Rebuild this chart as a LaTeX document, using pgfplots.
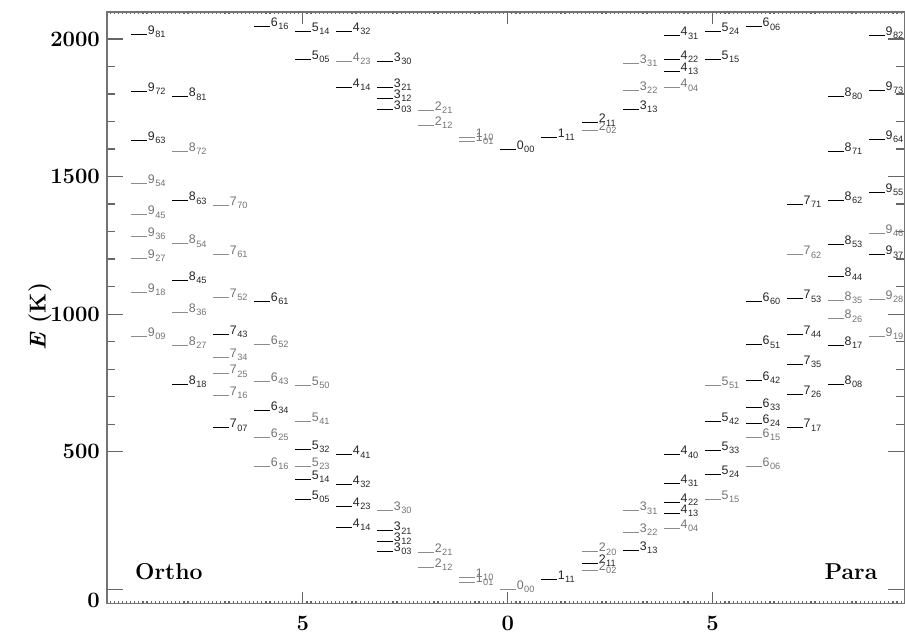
\documentclass[border=0pt]{standalone}
\usepackage{fontspec}
\usepackage{pgfplots}
\pgfplotsset{compat=1.18}
\newfontfamily\lvfont{Liberation Sans}
% level label: J with Ka Kc subscript
\NewDocumentCommand{\lv}{mm}{{\lvfont\fontsize{6.2}{7}\selectfont #1\kern0.25pt\raisebox{-1.6pt}{\fontsize{4.6}{5}\selectfont #2}}}

\pgfplotsset{
  lev/.style={only marks, mark=-, mark size=4pt,
    mark options={line width=0.5pt},
    point meta=explicit symbolic,
    nodes near coords={\pgfplotspointmeta},
    every node near coord/.append style={anchor=base west, xshift=4.3pt, inner sep=0pt}},
}

\begin{document}
\begin{tikzpicture}
\begin{axis}[
  scale only axis, width=399pt, height=296pt,
  xmin=-9.78, xmax=9.68, ymin=-52, ymax=2098,
  clip=false,
  axis line style={black!55, line width=0.6pt},
  tick style={black!60, line width=0.6pt},
  tick align=inside, tick pos=both,
  xtick={-5,0,5}, xticklabels={5,0,5},
  minor xtick={-9.7,-9.6,...,9.65},
  ytick={500,1000,1500,2000}, yticklabels={500,1000,1500,2000},
  extra y ticks={0}, extra y tick labels={0},
  extra y tick style={yticklabel style={yshift=-5.5pt}},
  minor y tick num=4,
  major x tick style={/pgfplots/major tick length=6pt},
  minor x tick style={/pgfplots/minor tick length=1.2pt},
  major y tick style={/pgfplots/major tick length=8pt},
  minor y tick style={/pgfplots/minor tick length=4pt},
  ticklabel style={font=\bfseries\fontsize{11}{12}\selectfont},
  xticklabel style={yshift=-2.5pt},
  ylabel={\textbf{\textit{E} (K)}},
  ylabel style={font=\fontsize{11.5}{13}\selectfont, at={(rel axis cs:0,0.485)}, yshift=33.5pt, anchor=center},
]
\coordinate (BL) at (rel axis cs:0,0);
\coordinate (TR) at (rel axis cs:1,1);

% black levels
\addplot[lev, black, every node near coord/.append style={text=black!85}] coordinates {
  (-3,136.8)[\lv{3}{03}] (-3,173.4)[\lv{3}{12}] (-3,212.2)[\lv{3}{21}]
  (-4,224.8)[\lv{4}{14}] (-4,300.4)[\lv{4}{23}] (-4,382.5)[\lv{4}{32}] (-4,488.1)[\lv{4}{41}]
  (-5,325.3)[\lv{5}{05}] (-5,399.5)[\lv{5}{14}] (-5,508.8)[\lv{5}{32}]
  (-6,649.0)[\lv{6}{34}] (-6,1045.1)[\lv{6}{61}]
  (-7,586.5)[\lv{7}{07}] (-7,927.7)[\lv{7}{43}]
  (-8,744.2)[\lv{8}{18}] (-8,1122.7)[\lv{8}{45}] (-8,1411.6)[\lv{8}{63}] (-8,1789.3)[\lv{8}{81}]
  (-9,1631.4)[\lv{9}{63}] (-9,1810.6)[\lv{9}{72}] (-9,2016.3)[\lv{9}{81}]
  (1,37.1)[\lv{1}{11}] (2,95.2)[\lv{2}{11}] (3,142.3)[\lv{3}{13}]
  (4,275.5)[\lv{4}{13}] (4,315.8)[\lv{4}{22}] (4,383.8)[\lv{4}{31}] (4,488.1)[\lv{4}{40}]
  (5,416.2)[\lv{5}{24}] (5,504.0)[\lv{5}{33}] (5,610.3)[\lv{5}{42}]
  (6,602.8)[\lv{6}{24}] (6,661.5)[\lv{6}{33}] (6,757.8)[\lv{6}{42}] (6,888.1)[\lv{6}{51}] (6,1045.1)[\lv{6}{60}]
  (7,586.2)[\lv{7}{17}] (7,709.6)[\lv{7}{26}] (7,816.7)[\lv{7}{35}] (7,927.7)[\lv{7}{44}] (7,1055)[\lv{7}{53}] (7,1398)[\lv{7}{71}]
  (8,744.2)[\lv{8}{08}] (8,885.6)[\lv{8}{17}] (8,1135)[\lv{8}{44}] (8,1254)[\lv{8}{53}] (8,1414)[\lv{8}{62}] (8,1592)[\lv{8}{71}] (8,1792)[\lv{8}{80}]
  (9,1215)[\lv{9}{37}] (9,1441)[\lv{9}{55}] (9,1634)[\lv{9}{64}] (9,1814)[\lv{9}{73}] (9,2014)[\lv{9}{82}]
  (-3,1744)[\lv{3}{03}] (-3,1783)[\lv{3}{12}] (-3,1823)[\lv{3}{21}] (-3,1919)[\lv{3}{30}]
  (-4,1825)[\lv{4}{14}] (-4,2028)[\lv{4}{32}] (-5,1925)[\lv{5}{05}] (-5,2028)[\lv{5}{14}] (-6,2045)[\lv{6}{16}]
  (0,1600)[\lv{0}{00}] (1,1641)[\lv{1}{11}] (2,1695)[\lv{2}{11}] (3,1744)[\lv{3}{13}]
  (4,1883)[\lv{4}{13}] (4,1925)[\lv{4}{22}] (4,2011)[\lv{4}{31}] (5,1925)[\lv{5}{15}] (5,2026)[\lv{5}{24}] (6,2044)[\lv{6}{06}]
};

% grey levels
\addplot[lev, black!45, every node near coord/.append style={text=black!55}] coordinates {
  (-1,23.8)[\lv{1}{01}] (-1,42.4)[\lv{1}{10}] (-2,79.5)[\lv{2}{12}] (-2,134.9)[\lv{2}{21}]
  (-3,285.4)[\lv{3}{30}] (-5,446.7)[\lv{5}{23}] (-5,610.1)[\lv{5}{41}] (-5,742.1)[\lv{5}{50}]
  (-6,447.3)[\lv{6}{16}] (-6,552.9)[\lv{6}{25}] (-6,756.7)[\lv{6}{43}] (-6,888.6)[\lv{6}{52}]
  (-7,704.2)[\lv{7}{16}] (-7,782.4)[\lv{7}{25}] (-7,842.4)[\lv{7}{34}] (-7,1059.6)[\lv{7}{52}]
  (-7,1216.2)[\lv{7}{61}] (-7,1394.8)[\lv{7}{70}]
  (-8,885.6)[\lv{8}{27}] (-8,1006.1)[\lv{8}{36}] (-8,1255.2)[\lv{8}{54}] (-8,1590.7)[\lv{8}{72}]
  (-9,920.2)[\lv{9}{09}] (-9,1079.1)[\lv{9}{18}] (-9,1201.9)[\lv{9}{27}] (-9,1282.9)[\lv{9}{36}]
  (-9,1360.2)[\lv{9}{45}] (-9,1475.1)[\lv{9}{54}]
  (0,0)[\lv{0}{00}] (2,70.1)[\lv{2}{02}] (2,136.2)[\lv{2}{20}] (3,206.3)[\lv{3}{22}] (3,285.2)[\lv{3}{31}]
  (4,222.1)[\lv{4}{04}] (5,326.6)[\lv{5}{15}] (5,742.1)[\lv{5}{51}] (6,446.7)[\lv{6}{06}] (6,552.9)[\lv{6}{15}]
  (7,1215)[\lv{7}{62}] (8,982.9)[\lv{8}{26}] (8,1050.2)[\lv{8}{35}]
  (9,918)[\lv{9}{19}] (9,1053)[\lv{9}{28}] (9,1293)[\lv{9}{46}]
  (-1,1628)[\lv{1}{01}] (-1,1643)[\lv{1}{10}] (-2,1685)[\lv{2}{12}] (-2,1741)[\lv{2}{21}] (-4,1919)[\lv{4}{23}]
  (2,1668)[\lv{2}{02}] (3,1814)[\lv{3}{22}] (3,1910)[\lv{3}{31}] (4,1822)[\lv{4}{04}]
};

\node[anchor=base west, font=\bfseries\fontsize{11.5}{13}\selectfont, inner sep=0pt] at (axis cs:-9.1,35) {Ortho};
\node[anchor=base east, font=\bfseries\fontsize{11.5}{13}\selectfont, inner sep=0pt] at (axis cs:9.03,35) {Para};
\end{axis}
\pgfresetboundingbox
\path ([xshift=-53.5pt,yshift=-15pt]BL) rectangle ([xshift=0.3pt,yshift=6pt]TR);
\end{tikzpicture}
\end{document}
